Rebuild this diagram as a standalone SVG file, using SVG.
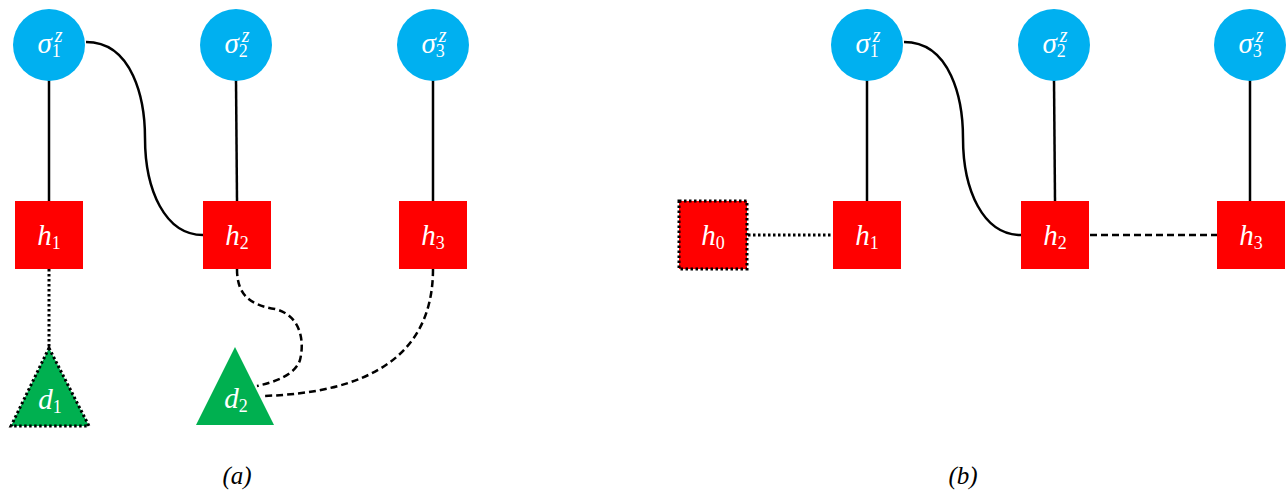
<svg xmlns="http://www.w3.org/2000/svg" width="1286" height="490" viewBox="0 0 1286 490">
<style>
.c{fill:#00B0F0}
.s{fill:#FF0000}
.t{fill:#00B050}
.lbl{font-family:"Liberation Serif",serif;font-style:italic;fill:#fff;font-size:29px}
.sub{font-style:normal;font-size:18px}
.sup{font-size:20px}
.cap{font-family:"Liberation Serif",serif;font-style:italic;fill:#000;font-size:25px}
.solid{fill:none;stroke:#000;stroke-width:2.5}
.dash{fill:none;stroke:#000;stroke-width:2.5;stroke-dasharray:7 4}
.dot{fill:none;stroke:#000;stroke-width:3;stroke-dasharray:2.5 2.5}
</style>
<g id="connectors">
<line class="solid" x1="49" y1="80" x2="49" y2="201"/>
<line class="solid" x1="236" y1="80" x2="237" y2="201"/>
<line class="solid" x1="433" y1="80" x2="433" y2="201"/>
<path class="solid" d="M86,42 C133,42 145,100 145,138 C145,190 165,235 203,235"/>
<line class="dot" x1="49" y1="269" x2="49" y2="348"/>
<path class="dash" d="M237,269 C237,295 250,305 275,309 C300,315 305,340 300,360 C295,375 275,382 257,386"/>
<path class="dash" d="M433,269 C433,355 370,393 262,396"/>
<line class="solid" x1="867" y1="80" x2="867" y2="201"/>
<line class="solid" x1="1054" y1="80" x2="1055" y2="201"/>
<line class="solid" x1="1250" y1="80" x2="1250" y2="201"/>
<path class="solid" d="M904,42 C951,42 963,100 963,138 C963,190 983,235 1021,235"/>
<line class="dot" x1="748" y1="235" x2="833" y2="235"/>
<line class="dash" x1="1090" y1="235" x2="1217" y2="235"/>
</g>
<g id="sigma1a"><circle class="c" cx="49" cy="45" r="36"/><text class="lbl" x="50" y="53" text-anchor="middle">σ<tspan class="sub" dy="4">1</tspan><tspan class="sup" dx="-6" dy="-15">z</tspan></text></g>
<g id="sigma2a"><circle class="c" cx="236" cy="45" r="36"/><text class="lbl" x="237" y="53" text-anchor="middle">σ<tspan class="sub" dy="4">2</tspan><tspan class="sup" dx="-6" dy="-15">z</tspan></text></g>
<g id="sigma3a"><circle class="c" cx="433" cy="45" r="36"/><text class="lbl" x="434" y="53" text-anchor="middle">σ<tspan class="sub" dy="4">3</tspan><tspan class="sup" dx="-6" dy="-15">z</tspan></text></g>
<g id="h1a"><rect class="s" x="15" y="201" width="68" height="68"/><text class="lbl" x="49" y="245" text-anchor="middle">h<tspan class="sub" dy="4">1</tspan></text></g>
<g id="h2a"><rect class="s" x="203" y="201" width="68" height="68"/><text class="lbl" x="237" y="245" text-anchor="middle">h<tspan class="sub" dy="4">2</tspan></text></g>
<g id="h3a"><rect class="s" x="399" y="201" width="68" height="68"/><text class="lbl" x="433" y="245" text-anchor="middle">h<tspan class="sub" dy="4">3</tspan></text></g>
<g id="d1"><polygon class="t" points="49,348 89,426 11,426" stroke="#000" stroke-width="3" stroke-dasharray="2.5 2.5"/><text class="lbl" x="50" y="409" text-anchor="middle">d<tspan class="sub" dy="4">1</tspan></text></g>
<g id="d2"><polygon class="t" points="235,347 274,425 196,425"/><text class="lbl" x="236" y="408" text-anchor="middle">d<tspan class="sub" dy="4">2</tspan></text></g>
<g id="sigma1b"><circle class="c" cx="867" cy="45" r="36"/><text class="lbl" x="868" y="53" text-anchor="middle">σ<tspan class="sub" dy="4">1</tspan><tspan class="sup" dx="-6" dy="-15">z</tspan></text></g>
<g id="sigma2b"><circle class="c" cx="1054" cy="45" r="36"/><text class="lbl" x="1055" y="53" text-anchor="middle">σ<tspan class="sub" dy="4">2</tspan><tspan class="sup" dx="-6" dy="-15">z</tspan></text></g>
<g id="sigma3b"><circle class="c" cx="1250" cy="45" r="36"/><text class="lbl" x="1251" y="53" text-anchor="middle">σ<tspan class="sub" dy="4">3</tspan><tspan class="sup" dx="-6" dy="-15">z</tspan></text></g>
<g id="h0b"><rect class="s" x="679" y="201" width="68" height="68" stroke="#000" stroke-width="3" stroke-dasharray="2.5 2.5"/><text class="lbl" x="713" y="245" text-anchor="middle">h<tspan class="sub" dy="4">0</tspan></text></g>
<g id="h1b"><rect class="s" x="833" y="201" width="68" height="68"/><text class="lbl" x="867" y="245" text-anchor="middle">h<tspan class="sub" dy="4">1</tspan></text></g>
<g id="h2b"><rect class="s" x="1021" y="201" width="68" height="68"/><text class="lbl" x="1055" y="245" text-anchor="middle">h<tspan class="sub" dy="4">2</tspan></text></g>
<g id="h3b"><rect class="s" x="1217" y="201" width="68" height="68"/><text class="lbl" x="1251" y="245" text-anchor="middle">h<tspan class="sub" dy="4">3</tspan></text></g>
<g id="captions">
<text class="cap" x="237" y="484" text-anchor="middle">(a)</text>
<text class="cap" x="963" y="484" text-anchor="middle">(b)</text>
</g>
</svg>
